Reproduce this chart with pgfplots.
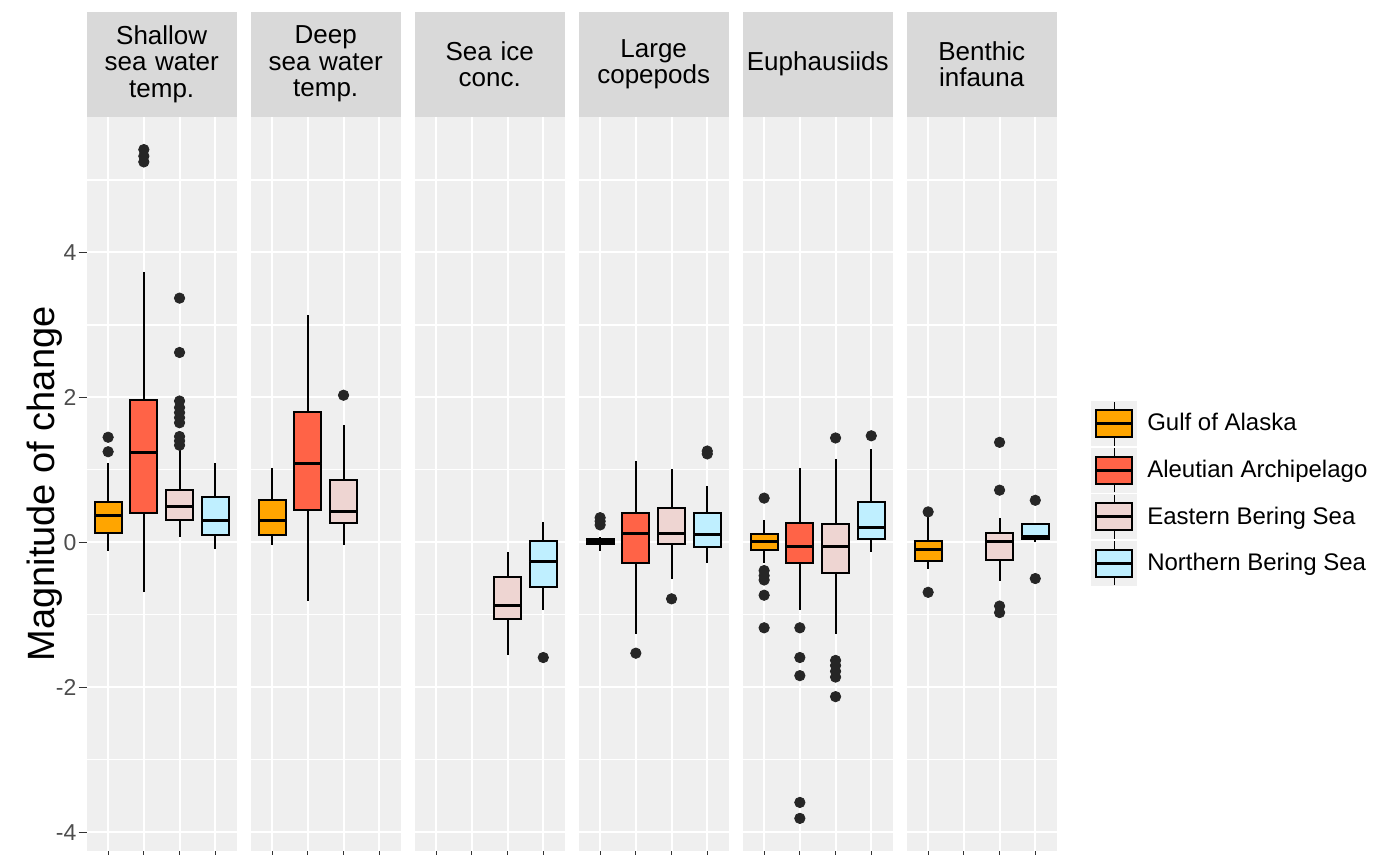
\documentclass[border=0pt]{standalone}
\usepackage{pgfplots}
\pgfplotsset{compat=1.18}
\usepgfplotslibrary{groupplots,statistics}
\usepackage{fontspec}
\setmainfont{Liberation Sans}

\definecolor{gulf}{HTML}{FFA500}
\definecolor{aleut}{HTML}{FF6347}
\definecolor{ebs}{HTML}{EED5D2}
\definecolor{nbs}{HTML}{BFEFFF}
\definecolor{panelbg}{HTML}{EFEFEF}
\definecolor{stripbg}{HTML}{D9D9D9}
\definecolor{keybg}{HTML}{F0F0F0}
\definecolor{tickc}{HTML}{333333}
\definecolor{labc}{HTML}{4D4D4D}

\newcommand{\bx}[7]{\addplot[forget plot, fill=#1, draw=black,
  boxplot prepared={draw position=#2, lower whisker=#3, lower quartile=#4,
  median=#5, upper quartile=#6, upper whisker=#7}] coordinates {};}
\newcommand{\outl}[1]{\addplot[forget plot, only marks, mark=*, mark size=2.6pt,
  color=black!85] coordinates {#1};}

\pgfplotsset{
  boxplot/draw direction=y,
  boxplot/box extend=0.76,
  boxplot/whisker extend=0,
  boxplot/every median/.style={line width=1.6pt},
  boxplot/every whisker/.style={line width=0.95pt},
  boxplot/every box/.style={line width=1pt},
  facet/.style={
    scale only axis, width=75pt, height=367pt,
    xmin=0.4, xmax=4.6, ymin=-4.26, ymax=5.87,
    axis background/.style={fill=panelbg},
    axis line style={draw=none},
    xtick={1,2,3,4}, xticklabels={},
    ytick={-4,-2,0,2,4}, minor ytick={-3,-1,1,3,5},
    xtick pos=bottom, ytick pos=left,
    grid=both,
    major grid style={white, line width=1pt},
    minor grid style={white, line width=0.6pt},
    tick align=outside, major tick length=4pt, minor tick length=0pt,
    tick style={color=tickc, line width=0.6pt},
    yticklabel style={font=\fontsize{11.5}{12}\selectfont, text=labc, inner sep=1pt},
    /pgf/number format/assume math mode=true,
    title style={at={(0.5,1)}, anchor=south, yshift=-6pt, fill=stripbg,
      text width=75pt, minimum height=52.5pt, inner sep=0pt, align=center,
      font=\fontsize{13}{13.3}\selectfont},
  },
  boxlegend/.style={legend image code/.code={
     \fill[keybg] (0pt,-11pt) rectangle (22.5pt,11pt);
     \draw[black, line width=0.8pt] (11.25pt,-11pt) -- (11.25pt,11pt);
     \draw[fill=#1, draw=black, line width=1pt] (2.25pt,-6.75pt) rectangle (20.25pt,6.75pt);
     \draw[black, line width=1.4pt] (2.25pt,0pt) -- (20.25pt,0pt);}},
}

\begin{document}
\begin{tikzpicture}
\begin{groupplot}[group style={group size=6 by 1, horizontal sep=7pt}, facet]
% Shallow sea water temp.
\nextgroupplot[title={Shallow\\sea water\\temp.},
  ylabel={Magnitude of change},
  ylabel style={at={(axis description cs:-0.278,0.5)}, anchor=center,
    font=\fontsize{19}{19}\selectfont}]
\bx{gulf}{1}{-0.12}{0.13}{0.375}{0.56}{1.09}
\bx{aleut}{2}{-0.69}{0.41}{1.24}{1.96}{3.73}
\bx{ebs}{3}{0.07}{0.31}{0.49}{0.72}{1.28}
\bx{nbs}{4}{-0.09}{0.10}{0.30}{0.63}{1.09}
\outl{(1,1.25) (1,1.45)}
\outl{(2,5.25) (2,5.33) (2,5.42)}
\outl{(3,1.34) (3,1.40) (3,1.46) (3,1.65) (3,1.72) (3,1.79) (3,1.86) (3,1.95) (3,2.62) (3,3.37)}
% Deep sea water temp.
\nextgroupplot[title={Deep\\sea water\\temp.}, yticklabels={}, ytick style={draw=none}]
\bx{gulf}{1}{-0.04}{0.10}{0.30}{0.58}{1.03}
\bx{aleut}{2}{-0.81}{0.44}{1.09}{1.80}{3.14}
\bx{ebs}{3}{-0.04}{0.27}{0.43}{0.86}{1.62}
\outl{(3,2.03)}
% Sea ice conc.
\nextgroupplot[title={Sea ice\\conc.}, yticklabels={}, ytick style={draw=none}]
\bx{ebs}{3}{-1.55}{-1.06}{-0.875}{-0.48}{-0.13}
\bx{nbs}{4}{-0.94}{-0.62}{-0.27}{0.02}{0.28}
\outl{(4,-1.59)}
% Large copepods
\nextgroupplot[title={Large\\copepods}, yticklabels={}, ytick style={draw=none}]
\bx{gulf}{1}{-0.12}{-0.03}{0.01}{0.05}{0.08}
\bx{aleut}{2}{-1.26}{-0.29}{0.12}{0.41}{1.12}
\bx{ebs}{3}{-0.51}{-0.03}{0.12}{0.47}{1.01}
\bx{nbs}{4}{-0.29}{-0.06}{0.11}{0.41}{0.78}
\outl{(1,0.24) (1,0.29) (1,0.34)}
\outl{(2,-1.53)}
\outl{(3,-0.78)}
\outl{(4,1.22) (4,1.26)}
% Euphausiids
\nextgroupplot[title={Euphausiids}, yticklabels={}, ytick style={draw=none}]
\bx{gulf}{1}{-0.29}{-0.10}{0.01}{0.11}{0.31}
\bx{aleut}{2}{-0.93}{-0.29}{-0.06}{0.27}{1.03}
\bx{ebs}{3}{-1.26}{-0.43}{-0.06}{0.25}{1.15}
\bx{nbs}{4}{-0.14}{0.05}{0.21}{0.55}{1.29}
\outl{(1,0.61) (1,-0.39) (1,-0.46) (1,-0.52) (1,-0.73) (1,-1.18)}
\outl{(2,-1.18) (2,-1.59) (2,-1.84) (2,-3.59) (2,-3.81)}
\outl{(3,1.44) (3,-1.63) (3,-1.70) (3,-1.78) (3,-1.86) (3,-2.13)}
\outl{(4,1.47)}
% Benthic infauna
\nextgroupplot[title={Benthic\\infauna}, yticklabels={}, ytick style={draw=none},
  legend style={at={(axis description cs:1.229,0.6138)}, anchor=north west,
    draw=none, fill=none, inner sep=0pt, row sep=0.5pt, column sep=3pt,
    font=\fontsize{12}{12}\selectfont, cells={anchor=west}}]
\bx{gulf}{1}{-0.37}{-0.26}{-0.10}{0.02}{0.38}
\bx{ebs}{3}{-0.53}{-0.24}{0.01}{0.13}{0.34}
\bx{nbs}{4}{0.00}{0.05}{0.08}{0.25}{0.27}
\outl{(1,0.42) (1,-0.69)}
\outl{(3,0.72) (3,1.38) (3,-0.88) (3,-0.97)}
\outl{(4,0.58) (4,-0.50)}
\addlegendimage{boxlegend=gulf}
\addlegendentry{Gulf of Alaska}
\addlegendimage{boxlegend=aleut}
\addlegendentry{Aleutian Archipelago}
\addlegendimage{boxlegend=ebs}
\addlegendentry{Eastern Bering Sea}
\addlegendimage{boxlegend=nbs}
\addlegendentry{Northern Bering Sea}
\end{groupplot}
\pgfresetboundingbox
\path[use as bounding box] (group c1r1.south west) ++(-43.35pt,-2pt) rectangle ++(691.5pt,427.5pt);
\end{tikzpicture}
\end{document}
